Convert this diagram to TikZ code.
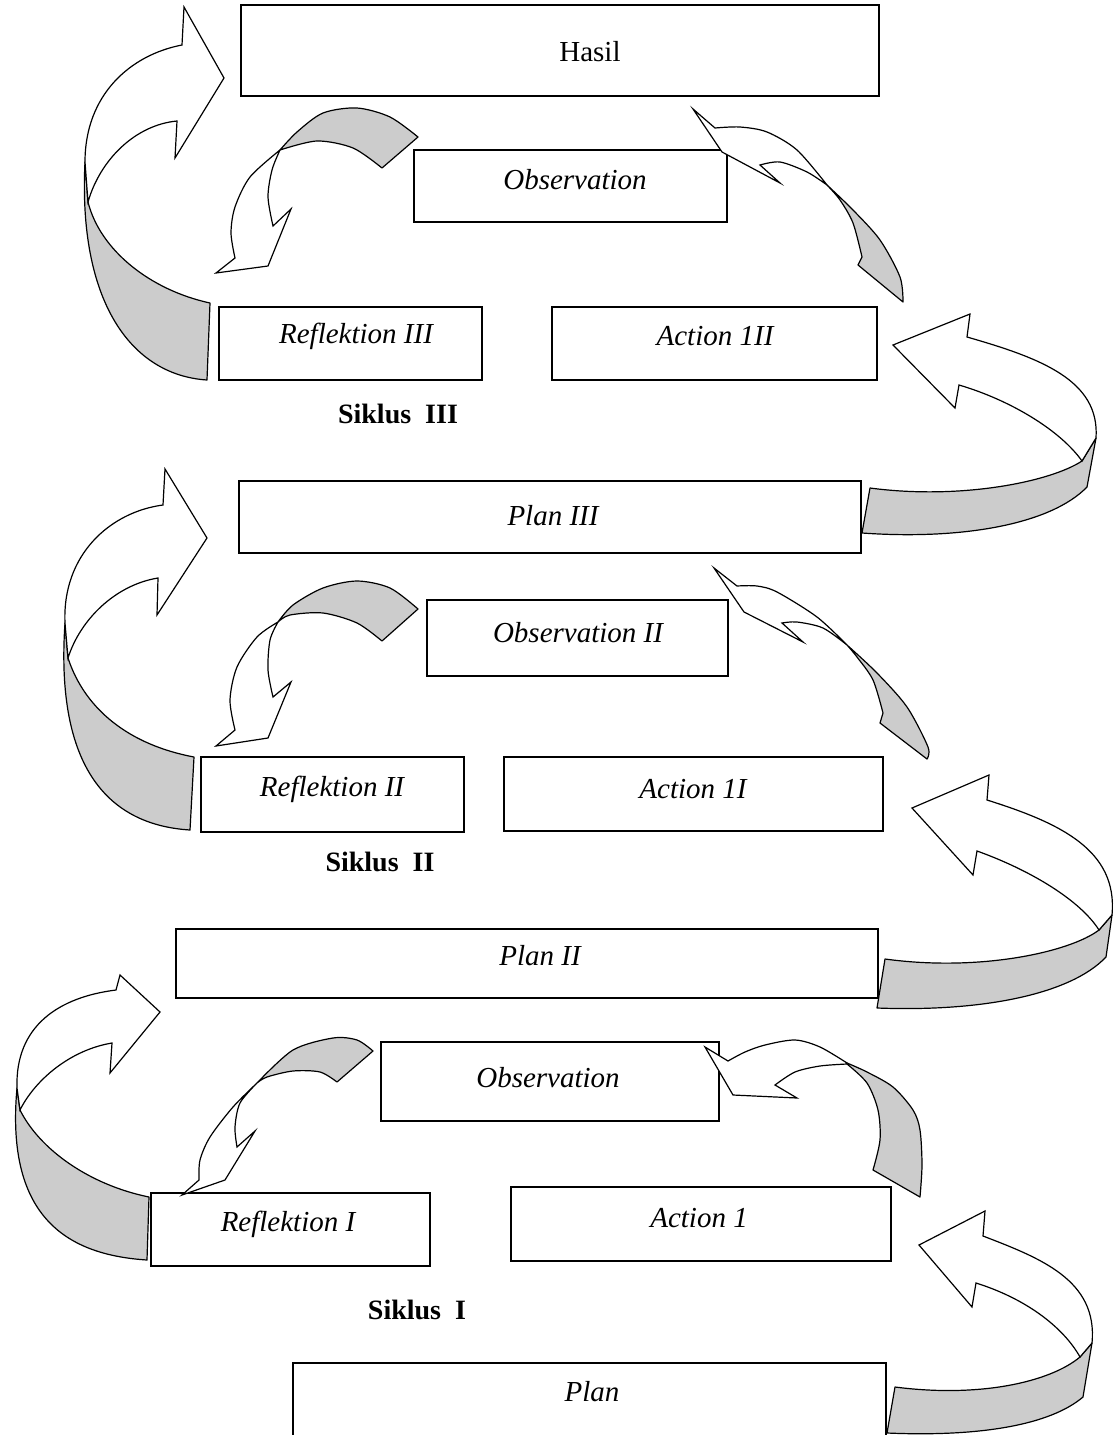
\documentclass[tikz,border=0pt]{standalone}
\usepackage{fontspec}
\setmainfont{Liberation Serif}
\definecolor{bandgray}{RGB}{204,204,204}
\tikzset{
  box/.style={draw, line width=1.3pt, fill=white},
  lbl/.style={font=\fontsize{29}{34}\selectfont\itshape, inner sep=0pt},
  lblup/.style={font=\fontsize{29}{34}\selectfont, inner sep=0pt},
  siklus/.style={font=\fontsize{28}{33}\selectfont\bfseries, inner sep=0pt},
  back/.style={draw, line width=1.2pt, fill=bandgray, line join=round},
  front/.style={draw, line width=1.2pt, fill=white, line join=miter},
}
\begin{document}
\begin{tikzpicture}[x=1pt,y=-1pt]
\useasboundingbox (0,0) rectangle (1118,1435);
% boxes
\draw[box] (241,5) rectangle (879,96); \node[lblup] (thasil) at (590,52) {Hasil};
\draw[box] (414,150) rectangle (727,222); \node[lbl] (tobs3) at (575,180) {Observation};
\draw[box] (219,307) rectangle (482,380); \node[lbl] (tref3) at (356,336) {Reflektion III};
\draw[box] (552,307) rectangle (877,380); \node[lbl] (tact3) at (715,336) {Action 1II};
\node[siklus] (s3) at (398,414) {Siklus\hspace{0.5em}III};
\draw[box] (239,481) rectangle (861,553); \node[lbl] (tplan3) at (553,516) {Plan III};
\draw[box] (427,600) rectangle (728,676); \node[lbl] (tobs2) at (578,633) {Observation II};
\draw[box] (201,757) rectangle (464,832); \node[lbl] (tref2) at (332,789) {Reflektion II};
\draw[box] (504,757) rectangle (883,831); \node[lbl] (tact2) at (693,789) {Action 1I};
\node[siklus] (s2) at (380,862) {Siklus\hspace{0.5em}II};
\draw[box] (176,929) rectangle (878,998); \node[lbl] (tplan2) at (540,956) {Plan II};
\draw[box] (381,1042) rectangle (719,1121); \node[lbl] (tobs1) at (548,1078) {Observation};
\draw[box] (151,1193) rectangle (430,1266); \node[lbl] (tref1) at (288,1224) {Reflektion I};
\draw[box] (511,1187) rectangle (891,1261); \node[lbl] (tact1) at (699,1218) {Action 1};
\node[siklus] (s1) at (417,1310) {Siklus\hspace{0.5em}I};
\draw[box] (293,1363) rectangle (886,1450); \node[lbl] (tplan1) at (592,1392) {Plan};

% Arrow A (left, top)
\draw[back] (85,162) .. controls (78,300) and (130,375) .. (207,380) -- (210,303)
  .. controls (150,290) and (100,250) .. (88,202) -- cycle;
\draw[front] (85,162) .. controls (85,95) and (130,55) .. (182,45) -- (184,7) -- (224,78) -- (175,158) -- (177,121)
  .. controls (135,125) and (100,160) .. (88,202) -- cycle;
% Arrow B (left, middle)
\draw[back] (65,623) .. controls (55,770) and (110,825) .. (190,830) -- (194,757)
  .. controls (130,745) and (85,710) .. (68,658) -- cycle;
\draw[front] (65,623) .. controls (62,555) and (110,512) .. (163,505) -- (165,469) -- (207,538) -- (157,615) -- (158,578)
  .. controls (115,585) and (80,620) .. (68,658) -- cycle;
% Arrow C (left, bottom)
\draw[back] (17,1088) .. controls (5,1220) and (70,1255) .. (147,1260) -- (149,1197)
  .. controls (90,1185) and (40,1150) .. (20,1110) -- cycle;
\draw[front] (17,1088) .. controls (15,1025) and (60,997) .. (116,990) -- (120,975) -- (160,1012) -- (110,1073) -- (112,1043)
  .. controls (70,1050) and (35,1080) .. (20,1110) -- cycle;

% Arrow D (small, top)
\draw[back] plot[smooth] coordinates {(418,137) (390,117) (357,108) (323,113) (297,132) (280,150)}
  -- plot[smooth] coordinates {(280,150) (317,141) (353,148) (382,168)} -- cycle;
\draw[front] plot[smooth] coordinates {(280,150) (250,177) (235,207) (231,233) (235,258)} -- (216,273) -- (268,266) -- (291,209) -- (273,226)
  -- plot[smooth] coordinates {(273,226) (268,197) (272,170) (280,150)} -- cycle;
% Arrow E (small, middle)
\draw[back] plot[smooth] coordinates {(418,609) (390,588) (357,581) (323,588) (293,605) (278,622)}
  -- plot[smooth] coordinates {(278,622) (290,615) (323,613) (357,623) (382,641)} -- cycle;
\draw[front] plot[smooth] coordinates {(278,622) (257,637) (237,667) (230,700) (235,730)} -- (216,746) -- (268,738) -- (291,682) -- (273,697)
  -- plot[smooth] coordinates {(273,697) (268,670) (270,640) (278,622)} -- cycle;
% Arrow F (small, bottom)
\draw[back] plot[smooth] coordinates {(373,1051) (357,1040) (333,1038) (293,1050) (257,1083)}
  -- plot[smooth] coordinates {(257,1083) (267,1077) (293,1071) (320,1072) (337,1082)} -- cycle;
\draw[front] plot[smooth] coordinates {(257,1083) (233,1107) (210,1137) (200,1160) (199,1180)} -- (182,1195) -- (225,1180) -- (255,1131) -- (237,1147)
  -- plot[smooth] coordinates {(237,1147) (235,1127) (240,1103) (257,1083)} -- cycle;

% Arrow G (right small, top)
\draw[back] plot[smooth] coordinates {(827,185) (853,210) (880,240) (900,277) (903,302)} -- (858,265)
  -- plot[smooth] coordinates {(862,257) (853,223) (840,200) (827,185)} -- cycle;
\draw[front] plot[smooth] coordinates {(827,185) (797,150) (767,132) (740,127) (715,128)} -- (693,109) -- (722,152) -- (780,183) -- (760,165)
  -- plot[smooth] coordinates {(760,165) (780,162) (807,172) (827,185)} -- cycle;
% Arrow H (right small, middle)
\draw[back] plot[smooth] coordinates {(847,645) (877,673) (907,707) (928,747) (927,759)} -- (880,723)
  -- plot[smooth] coordinates {(883,713) (873,680) (857,657) (847,645)} -- cycle;
\draw[front] plot[smooth] coordinates {(847,645) (817,617) (777,592) (757,586) (737,586)} -- (714,568) -- (744,612) -- (803,642) -- (782,623)
  -- plot[smooth] coordinates {(782,623) (797,622) (823,628) (847,645)} -- cycle;
% Arrow I (right small, bottom)
\draw[back] plot[smooth] coordinates {(847,1063) (867,1072) (893,1087) (913,1110) (920,1130) (922,1165) (920,1197)} -- (873,1170)
  -- plot[smooth] coordinates {(873,1170) (880,1140) (878,1110) (867,1083) (847,1064)} -- cycle;
\draw[front] plot[smooth] coordinates {(847,1063) (820,1047) (795,1040) (765,1045) (745,1052) (728,1061)} -- (705,1047) -- (733,1095) -- (797,1098) -- (775,1085)
  -- plot[smooth] coordinates {(775,1085) (795,1072) (820,1066) (847,1064)} -- cycle;

% Arrow J (right big, top)
\draw[back] (870,488) .. controls (960,500) and (1050,482) .. (1082,461) -- (1096,438) -- (1087,487)
  .. controls (1050,525) and (960,540) .. (862,533) -- cycle;
\draw[front] (1096,438) .. controls (1100,380) and (1040,358) .. (967,337) -- (970,314) -- (893,345) -- (955,408) -- (959,385)
  .. controls (1010,400) and (1060,430) .. (1082,461) -- cycle;
% Arrow K (right big, middle)
\draw[back] (885,959) .. controls (980,972) and (1070,952) .. (1099,930) -- (1112,915) -- (1106,957)
  .. controls (1070,995) and (980,1012) .. (877,1008) -- cycle;
\draw[front] (1112,915) .. controls (1118,850) and (1060,823) .. (987,800) -- (989,775) -- (912,808) -- (973,875) -- (977,851)
  .. controls (1030,870) and (1080,900) .. (1099,930) -- cycle;
% Arrow L (right big, bottom)
\draw[back] (895,1387) .. controls (980,1398) and (1050,1382) .. (1080,1357) -- (1092,1343) -- (1083,1397)
  .. controls (1050,1425) and (980,1437) .. (887,1433) -- cycle;
\draw[front] (1092,1343) .. controls (1098,1280) and (1040,1258) .. (983,1236) -- (985,1211) -- (919,1245) -- (972,1307) -- (976,1283)
  .. controls (1030,1300) and (1065,1330) .. (1080,1357) -- cycle;
\end{tikzpicture}
\end{document}
